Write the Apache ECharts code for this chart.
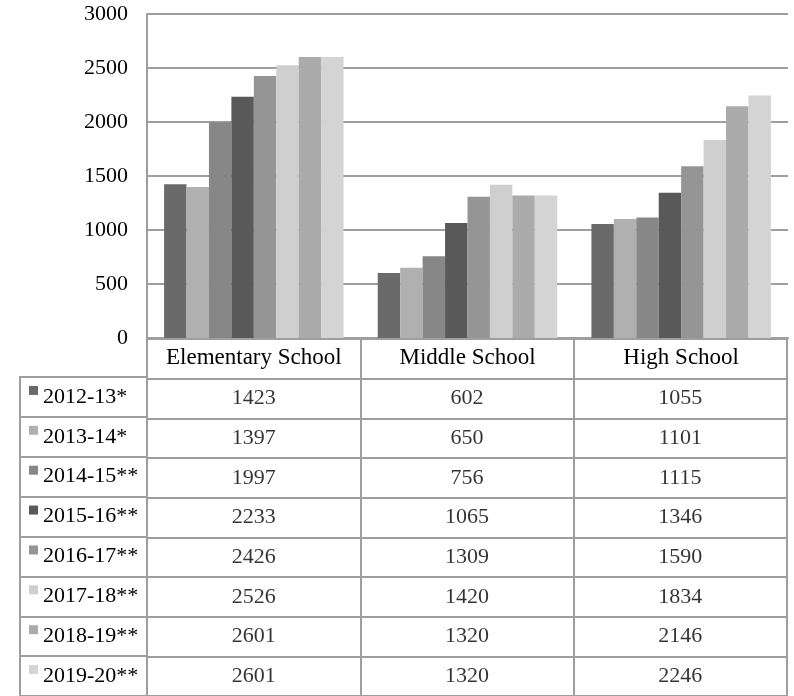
<!DOCTYPE html>
<html>
<head>
<meta charset="utf-8">
<script src="https://cdn.jsdelivr.net/npm/echarts@6/dist/echarts.min.js"></script>
<style>html,body{margin:0;padding:0;background:#fff}#c{width:794px;height:696px}</style>
</head>
<body>
<div id="c"></div>
<script>
// ---- data ----
var schools = ['Elementary School', 'Middle School', 'High School'];
var years = ['2012-13*', '2013-14*', '2014-15**', '2015-16**', '2016-17**', '2017-18**', '2018-19**', '2019-20**'];
var elementary = [1423, 1397, 1997, 2233, 2426, 2526, 2601, 2601];
var middle = [602, 650, 756, 1065, 1309, 1420, 1320, 1320];
var high = [1055, 1101, 1115, 1346, 1590, 1834, 2146, 2246];
var yTicks = [0, 500, 1000, 1500, 2000, 2500, 3000];

// ---- style ----
var colors = ['#6a6a6a', '#b0b0b0', '#878787', '#595959', '#959595', '#cfcfcf', '#ababab', '#d4d4d4'];
var FONT = "'Liberation Serif', 'Times New Roman', serif";
var FS = 22;
var LINE = '#9e9e9e';

var chart = echarts.init(document.getElementById('c'), null, {renderer: 'canvas'});

var series = [];
var rich = {t: {fontFamily: FONT, fontSize: FS, color: '#000', padding: [0, 0, 0, 5]}};
years.forEach(function (y, i) {
  var vals = [elementary[i], middle[i], high[i]];
  series.push({
    name: y, type: 'bar', xAxisIndex: 0, yAxisIndex: 0,
    data: vals, barGap: '0%', barCategoryGap: '16%',
    itemStyle: {color: colors[i]}, animation: false
  });
  series.push({
    name: y + ' table', type: 'scatter', xAxisIndex: 1, yAxisIndex: 1,
    symbolSize: 1, itemStyle: {color: 'rgba(0,0,0,0)'}, animation: false,
    data: vals.map(function (v, j) { return [j, i + 1, v]; }),
    label: {show: true, position: 'inside', formatter: function (p) { return String(p.value[2]); },
      fontFamily: FONT, fontSize: FS, color: '#000'}
  });
  rich['s' + i] = {width: 9, height: 9, backgroundColor: colors[i], verticalAlign: 'top'};
});

var tableRows = [''].concat(years);

chart.setOption({
  animation: false,
  grid: [
    {left: 147, right: 6, top: 14, bottom: 358},
    {left: 147, right: 7, top: 339, height: 358, show: true, borderColor: LINE, borderWidth: 2},
    {left: 20, width: 127, top: 377, height: 320, show: true, borderColor: LINE, borderWidth: 2}
  ],
  xAxis: [
    {gridIndex: 0, type: 'category', data: schools,
      axisLine: {show: true, lineStyle: {color: LINE, width: 2}}, axisTick: {show: false},
      axisLabel: {interval: 0, margin: 8, fontFamily: FONT, fontSize: 23, color: '#000'}},
    {gridIndex: 1, type: 'category', data: schools,
      axisLine: {show: false}, axisTick: {show: false}, axisLabel: {show: false},
      splitLine: {show: true, lineStyle: {color: LINE, width: 2}}},
    {gridIndex: 2, type: 'category', data: [''],
      axisLine: {show: false}, axisTick: {show: false}, axisLabel: {show: false},
      splitLine: {show: false}}
  ],
  yAxis: [
    {gridIndex: 0, type: 'value', min: yTicks[0], max: yTicks[yTicks.length - 1], interval: 500,
      axisLine: {show: true, lineStyle: {color: LINE, width: 2}}, axisTick: {show: false},
      splitLine: {show: true, lineStyle: {color: LINE, width: 2}},
      axisLabel: {margin: 19, fontFamily: FONT, fontSize: FS, color: '#000', padding: [6, 0, 0, 0],
        formatter: function (v) { return String(v); }}},
    {gridIndex: 1, type: 'category', data: tableRows, inverse: true,
      axisLine: {show: false}, axisTick: {show: false}, axisLabel: {show: false},
      splitLine: {show: true, lineStyle: {color: LINE, width: 2}}},
    {gridIndex: 2, type: 'category', data: years, inverse: true,
      axisLine: {show: false}, axisTick: {show: false},
      splitLine: {show: true, lineStyle: {color: LINE, width: 2}},
      axisLabel: {inside: true, margin: 9, align: 'left', interval: 0,
        formatter: function (v, idx) { return '{s' + idx + '|}{t|' + v + '}'; },
        rich: rich}}
  ],
  series: series
});
</script>
</body>
</html>
